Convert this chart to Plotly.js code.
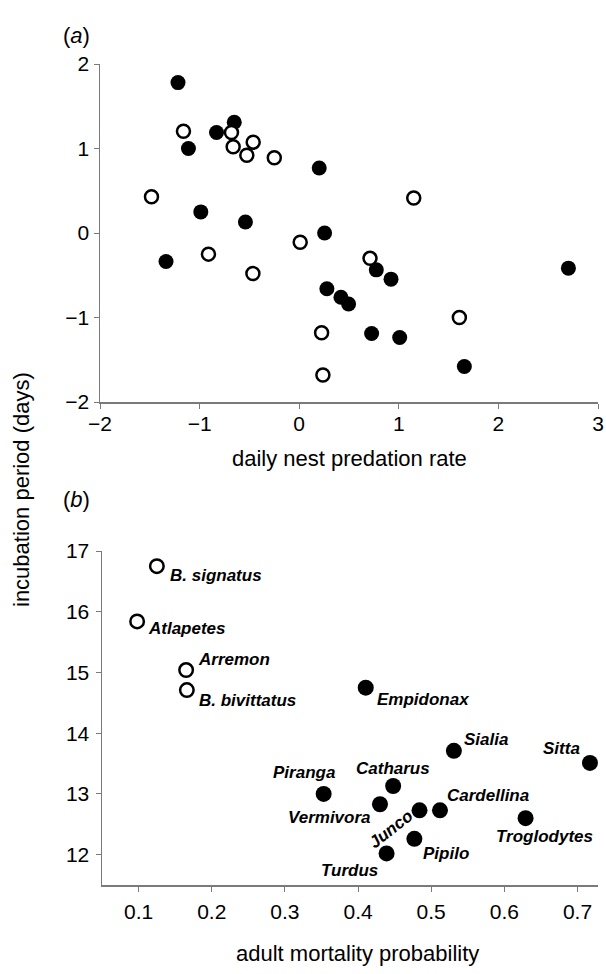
<!DOCTYPE html>
<html>
<head>
<meta charset="utf-8">
<script src="https://cdn.plot.ly/plotly-3.0.1.min.js"></script>
<style>html,body{margin:0;padding:0;background:#fff;}#chart{width:606px;height:974px;}</style>
</head>
<body>
<div id="chart"></div>
<script>
// Panel (a): daily nest predation rate vs incubation period (residuals)
const aFilledX = [-1.217, -1.112, -0.83, -0.652, 0.201, -0.988, -0.54, -1.337, 0.255, 0.278, 0.774, 0.922, 0.419, 0.496, 0.727, 1.009, 1.658, 2.703];
const aFilledY = [1.78, 1.0, 1.19, 1.31, 0.77, 0.25, 0.13, -0.337, 0.0, -0.66, -0.436, -0.546, -0.76, -0.84, -1.19, -1.237, -1.58, -0.416];
const aOpenX = [-1.162, -0.68, -0.663, -0.462, -0.526, -0.25, -1.483, -0.911, -0.465, 0.01, 0.225, 0.238, 1.15, 0.711, 1.608];
const aOpenY = [1.205, 1.19, 1.02, 1.075, 0.92, 0.89, 0.43, -0.25, -0.48, -0.11, -1.18, -1.68, 0.415, -0.30, -1.00];

// Panel (b): adult mortality probability vs incubation period (days)
const bOpenNames = ["B. signatus", "Atlapetes", "Arremon", "B. bivittatus"];
const bOpenX = [0.125, 0.098, 0.165, 0.166];
const bOpenY = [16.75, 15.84, 15.04, 14.71];
const bFilledNames = ["Empidonax", "Sialia", "Sitta", "Catharus", "Piranga", "Vermivora", "Junco", "Cardellina", "Troglodytes", "Pipilo", "Turdus"];
const bFilledX = [0.4105, 0.531, 0.717, 0.448, 0.353, 0.430, 0.484, 0.512, 0.629, 0.477, 0.439];
const bFilledY = [14.75, 13.71, 13.51, 13.13, 13.0, 12.83, 12.73, 12.73, 12.60, 12.26, 12.02];

// label placement styles (pixel offsets relative to marker)
const labelStyle = {
  "B. signatus":   {xa: "left",   dx: 11,  dy: -9,  ang: 0},
  "Atlapetes":     {xa: "left",   dx: 9,   dy: -7,  ang: 0},
  "Arremon":       {xa: "left",   dx: 10,  dy: 11,  ang: 0},
  "B. bivittatus": {xa: "left",   dx: 10,  dy: -10, ang: 0},
  "Empidonax":     {xa: "left",   dx: 9,   dy: -12, ang: 0},
  "Sialia":        {xa: "left",   dx: 8,   dy: 11,  ang: 0},
  "Sitta":         {xa: "right",  dx: -8,  dy: 14,  ang: 0},
  "Catharus":      {xa: "center", dx: 0,   dy: 18,  ang: 0},
  "Piranga":       {xa: "right",  dx: 13,  dy: 21,  ang: 0},
  "Vermivora":     {xa: "right",  dx: -7,  dy: -13, ang: 0},
  "Junco":         {xa: "center", dx: -29, dy: -19, ang: -38},
  "Cardellina":    {xa: "left",   dx: 5,   dy: 15,  ang: 0},
  "Troglodytes":   {xa: "left",   dx: -32, dy: -18, ang: 0},
  "Pipilo":        {xa: "left",   dx: 7,   dy: -15, ang: 0},
  "Turdus":        {xa: "right",  dx: -7,  dy: -17, ang: 0}
};

const FONT = "Liberation Sans, Arial, Helvetica, sans-serif";
const AX = "#7a7a7a";

const traces = [
  {x: aFilledX, y: aFilledY, xaxis: "x", yaxis: "y", type: "scatter", mode: "markers",
   marker: {size: 15, color: "#000", line: {width: 0}}, cliponaxis: false, hoverinfo: "skip"},
  {x: aOpenX, y: aOpenY, xaxis: "x", yaxis: "y", type: "scatter", mode: "markers",
   marker: {size: 13, color: "#fff", line: {width: 2.5, color: "#000"}}, cliponaxis: false, hoverinfo: "skip"},
  {x: bFilledX, y: bFilledY, xaxis: "x2", yaxis: "y2", type: "scatter", mode: "markers",
   marker: {size: 16, color: "#000", line: {width: 0}}, cliponaxis: false, hoverinfo: "skip"},
  {x: bOpenX, y: bOpenY, xaxis: "x2", yaxis: "y2", type: "scatter", mode: "markers",
   marker: {size: 13.5, color: "#fff", line: {width: 2.5, color: "#000"}}, cliponaxis: false, hoverinfo: "skip"}
];

const annotations = [];
function addLabels(names, xs, ys) {
  names.forEach((n, i) => {
    const s = labelStyle[n];
    annotations.push({
      xref: "x2", yref: "y2", x: xs[i], y: ys[i], text: n, showarrow: false,
      xanchor: s.xa, yanchor: "middle", xshift: s.dx, yshift: s.dy, textangle: s.ang,
      font: {family: FONT, size: 17, color: "#000", weight: "bold", style: "italic"}
    });
  });
}
addLabels(bOpenNames, bOpenX, bOpenY);
addLabels(bFilledNames, bFilledX, bFilledY);

// panel letters and axis titles
const H = 974, W = 606;
annotations.push(
  {xref: "paper", yref: "paper", x: 76 / W, y: 1 - 35 / H, text: "(<i>a</i>)", showarrow: false,
   xanchor: "center", yanchor: "middle", font: {family: FONT, size: 22, color: "#000"}},
  {xref: "paper", yref: "paper", x: 76 / W, y: 1 - 500 / H, text: "(<i>b</i>)", showarrow: false,
   xanchor: "center", yanchor: "middle", font: {family: FONT, size: 22, color: "#000"}},
  {xref: "paper", yref: "paper", x: 349 / W, y: 1 - 458 / H, text: "daily nest predation rate", showarrow: false,
   xanchor: "center", yanchor: "middle", font: {family: FONT, size: 22, color: "#000"}},
  {xref: "paper", yref: "paper", x: 357 / W, y: 1 - 953 / H, text: "adult mortality probability", showarrow: false,
   xanchor: "center", yanchor: "middle", font: {family: FONT, size: 22, color: "#000"}},
  {xref: "paper", yref: "paper", x: 22 / W, y: 1 - 490 / H, text: "incubation period (days)", showarrow: false,
   textangle: -90, xanchor: "center", yanchor: "middle", font: {family: FONT, size: 22, color: "#000"}}
);

const axisCommon = {
  showline: true, linecolor: AX, linewidth: 1.5, ticks: "outside", ticklen: 5, tickcolor: AX, tickwidth: 1,
  showgrid: false, zeroline: false, tickfont: {family: FONT, size: 21, color: "#000"}, fixedrange: true
};

const layout = {
  width: W, height: H, margin: {l: 0, r: 0, t: 0, b: 0},
  paper_bgcolor: "#fff", plot_bgcolor: "#fff", showlegend: false,
  font: {family: FONT, color: "#000"},
  xaxis: Object.assign({}, axisCommon, {domain: [100 / W, 598 / W], range: [-2, 3], tickvals: [-2, -1, 0, 1, 2, 3], anchor: "y", ticklabelstandoff: -3}),
  yaxis: Object.assign({}, axisCommon, {domain: [1 - 402 / H, 1 - 64 / H], range: [-2, 2], tickvals: [-2, -1, 0, 1, 2], anchor: "x"}),
  xaxis2: Object.assign({}, axisCommon, {domain: [102 / W, 598 / W], range: [0.05, 0.728], tickvals: [0.1, 0.2, 0.3, 0.4, 0.5, 0.6, 0.7], tickformat: ".1f", anchor: "y2", ticklabelstandoff: 2}),
  yaxis2: Object.assign({}, axisCommon, {domain: [1 - 885 / H, 1 - 551 / H], range: [11.5, 17], tickvals: [12, 13, 14, 15, 16, 17], anchor: "x2", ticklabelstandoff: 2}),
  annotations: annotations
};

Plotly.newPlot("chart", traces, layout, {staticPlot: true, displayModeBar: false});
</script>
</body>
</html>
